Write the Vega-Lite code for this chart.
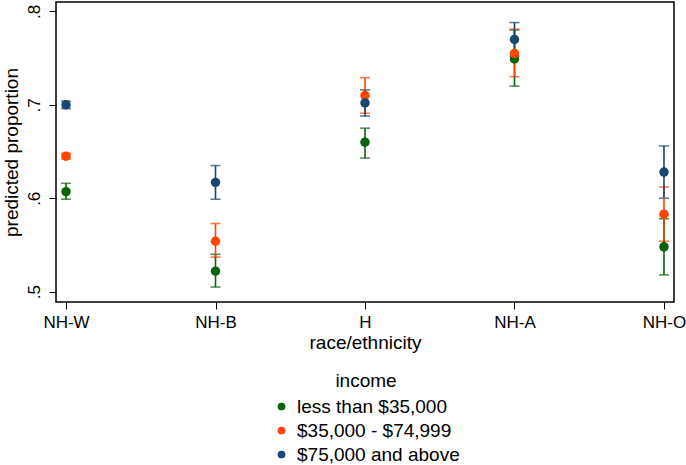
{
  "$schema": "https://vega.github.io/schema/vega-lite/v6.json",
  "autosize": "none",
  "width": 618,
  "height": 300,
  "padding": {"left": 56, "top": 2, "right": 12, "bottom": 163},
  "background": "white",
  "config": {
    "font": "Liberation Sans",
    "view": {"stroke": "black", "strokeWidth": 1.5},
    "axis": {"grid": false, "domain": false, "tickColor": "black", "tickSize": 7, "labelColor": "black", "titleColor": "black", "labelFontSize": 17, "titleFontSize": 19, "titleFontWeight": "normal"}
  },
  "data": {
    "values": [
      {"race": "NH-W", "income": "less than $35,000", "est": 0.607, "lo": 0.599, "hi": 0.616},
      {"race": "NH-W", "income": "$35,000 - $74,999", "est": 0.645, "lo": 0.642, "hi": 0.648},
      {"race": "NH-W", "income": "$75,000 and above", "est": 0.700, "lo": 0.696, "hi": 0.704},
      {"race": "NH-B", "income": "less than $35,000", "est": 0.522, "lo": 0.505, "hi": 0.540},
      {"race": "NH-B", "income": "$35,000 - $74,999", "est": 0.554, "lo": 0.537, "hi": 0.573},
      {"race": "NH-B", "income": "$75,000 and above", "est": 0.617, "lo": 0.599, "hi": 0.635},
      {"race": "H", "income": "less than $35,000", "est": 0.660, "lo": 0.643, "hi": 0.675},
      {"race": "H", "income": "$35,000 - $74,999", "est": 0.710, "lo": 0.691, "hi": 0.729},
      {"race": "H", "income": "$75,000 and above", "est": 0.702, "lo": 0.688, "hi": 0.716},
      {"race": "NH-A", "income": "less than $35,000", "est": 0.749, "lo": 0.720, "hi": 0.780},
      {"race": "NH-A", "income": "$35,000 - $74,999", "est": 0.755, "lo": 0.730, "hi": 0.781},
      {"race": "NH-A", "income": "$75,000 and above", "est": 0.770, "lo": 0.752, "hi": 0.788},
      {"race": "NH-O", "income": "less than $35,000", "est": 0.548, "lo": 0.518, "hi": 0.578},
      {"race": "NH-O", "income": "$35,000 - $74,999", "est": 0.583, "lo": 0.554, "hi": 0.612},
      {"race": "NH-O", "income": "$75,000 and above", "est": 0.628, "lo": 0.600, "hi": 0.656}
    ]
  },
  "encoding": {
    "x": {
      "field": "race", "type": "nominal",
      "sort": ["NH-W", "NH-B", "H", "NH-A", "NH-O"],
      "scale": {"type": "point", "padding": 0.067},
      "axis": {"title": "race/ethnicity", "labelAngle": 0, "labelPadding": 5, "titlePadding": 3}
    },
    "color": {
      "field": "income", "type": "nominal",
      "sort": ["less than $35,000", "$35,000 - $74,999", "$75,000 and above"],
      "scale": {"domain": ["less than $35,000", "$35,000 - $74,999", "$75,000 and above"], "range": ["#0b640b", "#ff4500", "#1a476f"]},
      "legend": {
        "title": "income", "orient": "none", "legendX": 216, "legendY": 370,
        "titleFontSize": 19, "titleFontWeight": "normal", "titleColor": "black", "titleAnchor": "middle", "titlePadding": 6,
        "labelFontSize": 19, "labelColor": "black", "labelLimit": 0, "symbolType": "circle", "symbolSize": 60, "symbolOpacity": 1,
        "symbolStrokeWidth": 0, "rowPadding": 4, "labelOffset": 6
      }
    }
  },
  "layer": [
    {
      "mark": {"type": "errorbar", "ticks": {"size": 10}, "thickness": 1.6},
      "encoding": {
        "y": {"field": "lo", "type": "quantitative", "scale": {"domain": [0.489, 0.81], "nice": false, "zero": false},
          "axis": {"title": "predicted proportion", "values": [0.5, 0.6, 0.7, 0.8], "format": ".1f", "labelExpr": "replace(datum.label, '0.', '.')", "labelAngle": -90, "labelAlign": "center", "labelBaseline": "bottom", "labelPadding": 6, "titlePadding": 4}},
        "y2": {"field": "hi"}
      }
    },
    {
      "mark": {"type": "point", "filled": true, "size": 90, "opacity": 1},
      "encoding": {"y": {"field": "est", "type": "quantitative"}}
    }
  ]
}
